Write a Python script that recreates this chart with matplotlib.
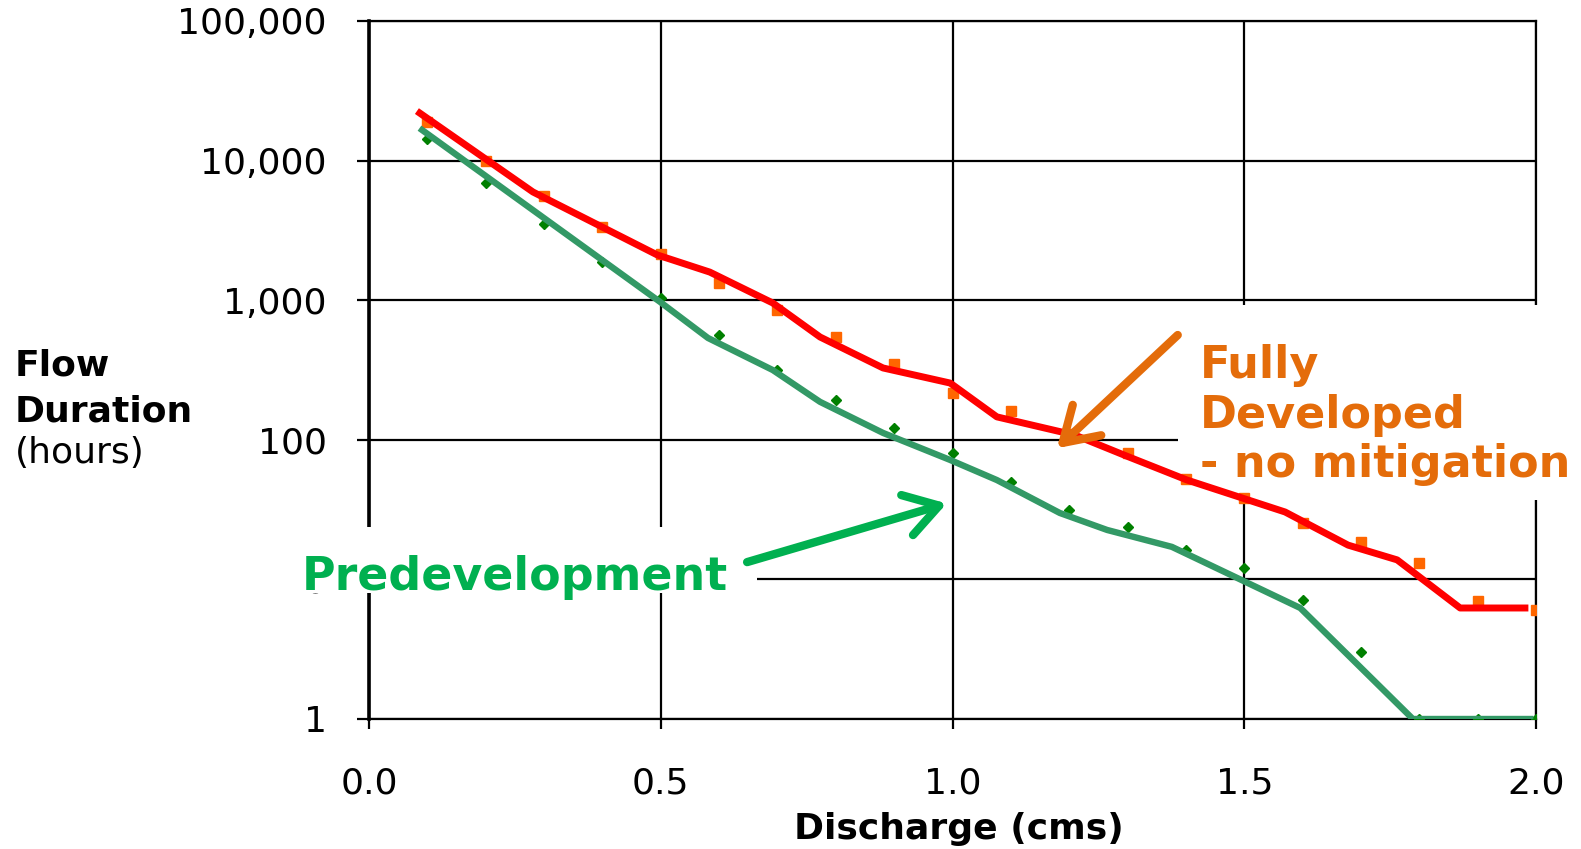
import matplotlib
matplotlib.use('Agg')
import matplotlib.pyplot as plt
from matplotlib.patches import Rectangle
from matplotlib.ticker import FixedLocator, FixedFormatter, NullLocator

# sampled points (markers)
discharge = [0.1, 0.2, 0.3, 0.4, 0.5, 0.6, 0.7, 0.8, 0.9, 1.0,
             1.1, 1.2, 1.3, 1.4, 1.5, 1.6, 1.7, 1.8, 1.9, 2.0]
developed_pts = [19000, 9900, 5600, 3350, 2150, 1330, 850, 545, 350, 216,
                 161, 110, 80, 52, 38, 25.5, 18.5, 13, 7, 6]
predev_pts = [14300, 6900, 3500, 1880, 1040, 563, 316, 193, 121, 80,
              50, 31.4, 23.7, 16.2, 12.1, 7.1, 3.0, 1, 1, 1]

# trend lines drawn over the points
developed_line_x = [0.087, 0.281, 0.494, 0.584, 0.692, 0.773, 0.881, 0.996, 1.076,
                    1.21, 1.30, 1.402, 1.570, 1.678, 1.762, 1.870, 1.981]
developed_line_y = [21900, 5960, 2110, 1590, 955, 545, 327, 255, 146,
                    108, 76, 51.5, 30.4, 17.6, 13.8, 6.24, 6.24]
predev_line_x = [0.091, 0.499, 0.581, 0.692, 0.773, 0.881, 0.996, 1.076,
                 1.184, 1.265, 1.376, 1.596, 1.789, 1.99]
predev_line_y = [16560, 971, 536, 316, 187, 112, 71.7, 51.5,
                 29.9, 22.6, 17.1, 6.24, 1, 1]

x_ticks = [0.0, 0.5, 1.0, 1.5, 2.0]
x_tick_labels = ['0.0', '0.5', '1.0', '1.5', '2.0']
y_ticks = [1, 10, 100, 1000, 10000, 100000]
y_tick_labels = ['1', '10', '100', '1,000', '10,000', '100,000']

W, H = 1581, 849
fig = plt.figure(figsize=(W / 100, H / 100), dpi=100)
ax = fig.add_axes([369 / W, 1 - 719 / H, 1167 / W, 698 / H])

ax.set_yscale('log')
ax.set_xlim(0, 2)
ax.set_ylim(1, 100000)
ax.xaxis.set_major_locator(FixedLocator(x_ticks))
ax.xaxis.set_major_formatter(FixedFormatter(x_tick_labels))
ax.yaxis.set_major_locator(FixedLocator(y_ticks))
ax.yaxis.set_major_formatter(FixedFormatter(y_tick_labels))
ax.yaxis.set_minor_locator(NullLocator())
ax.xaxis.set_minor_locator(NullLocator())

ax.grid(True, color='black', linewidth=1.6)
ax.set_axisbelow(True)
for side in ['top', 'right', 'bottom']:
    ax.spines[side].set_linewidth(1.6)
ax.spines['left'].set_linewidth(2.6)
ax.tick_params(axis='y', direction='out', length=8.5, width=1.6, pad=22,
               labelsize=26, colors='black')
ax.tick_params(axis='x', direction='out', length=7, width=1.6, pad=27,
               labelsize=26, colors='black')

# white boxes behind the labels (they hide the grid underneath)
ax.add_artist(Rectangle((-0.102, 0.1805), 0.4345, 0.0946, transform=ax.transAxes,
                        facecolor='white', edgecolor='none', clip_on=False, zorder=3))
ax.add_artist(Rectangle((0.693, 0.3138), 0.45, 0.279, transform=ax.transAxes,
                        facecolor='white', edgecolor='none', clip_on=False, zorder=3))

ax.plot(discharge, developed_pts, linestyle='none', marker='s', markersize=7.5,
        color='#FF6600', zorder=4)
ax.plot(discharge, predev_pts, linestyle='none', marker='D', markersize=5.5,
        color='#008000', zorder=4)
ax.plot(developed_line_x, developed_line_y, color='#FF0000', linewidth=5,
        solid_joinstyle='round', zorder=5)
ax.plot(predev_line_x, predev_line_y, color='#339966', linewidth=4.6,
        solid_joinstyle='round', zorder=5)

ax.annotate('', xy=(0.99, 35), xytext=(0.648, 13.3),
            arrowprops=dict(arrowstyle='->, head_length=1.2, head_width=0.75',
                            mutation_scale=20, lw=6, color='#00B050',
                            shrinkA=0, shrinkB=0), zorder=6)
ax.annotate('', xy=(1.179, 87), xytext=(1.386, 563),
            arrowprops=dict(arrowstyle='->, head_length=1.2, head_width=0.75',
                            mutation_scale=20, lw=6, color='#E46C0A',
                            shrinkA=0, shrinkB=0), zorder=6)

ax.text(-0.0574, 0.1848, 'Predevelopment', transform=ax.transAxes, fontsize=33,
        fontweight='bold', color='#00B050', va='baseline', ha='left', zorder=6)
ax.text(0.712, 0.346, 'Fully\nDeveloped\n- no mitigation', transform=ax.transAxes,
        fontsize=32, fontweight='bold', color='#E46C0A', va='baseline', ha='left',
        linespacing=1.2, zorder=6)

fig.text(15 / W, 1 - 375 / H, 'Flow', fontsize=26, fontweight='bold', va='baseline')
fig.text(15 / W, 1 - 421 / H, 'Duration', fontsize=26, fontweight='bold', va='baseline')
fig.text(15 / W, 1 - 463 / H, '(hours)', fontsize=26, va='baseline')
fig.text(959 / W, 1 - 839 / H, 'Discharge (cms)', fontsize=26, fontweight='bold',
         ha='center', va='baseline')

fig.savefig('out.png', dpi=100)
